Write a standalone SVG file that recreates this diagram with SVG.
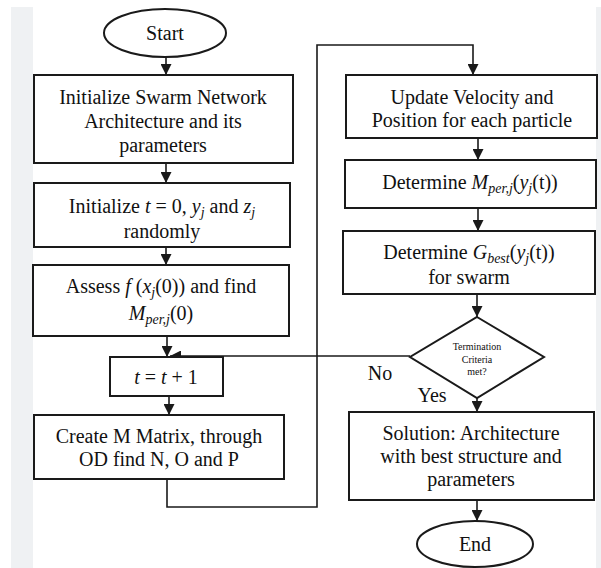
<svg xmlns="http://www.w3.org/2000/svg" width="601" height="568" viewBox="0 0 601 568">
<style>
  .box { fill: #ffffff; stroke: #1a1a1a; stroke-width: 2; }
  .ln { fill: none; stroke: #1a1a1a; stroke-width: 1.6; }
  .t { font-family: "Liberation Serif", "Times New Roman", "DejaVu Serif", serif; font-size: 20px; fill: #111111; text-anchor: middle; }
  .small { font-size: 10px; }
  .i { font-style: italic; }
  .sub { font-size: 14px; font-style: italic; }
</style>
<defs>
  <marker id="ah" markerUnits="userSpaceOnUse" markerWidth="11" markerHeight="11" refX="11" refY="5.5" orient="auto">
    <path d="M0,0 L11,5.5 L0,11 z" fill="#1a1a1a"/>
  </marker>
</defs>
<rect x="0" y="0" width="601" height="568" fill="#ffffff"/>
<rect x="11" y="7" width="22" height="561" fill="#eff1f3"/>
<rect x="596" y="7" width="5" height="561" fill="#eff1f3"/>

<g id="connectors">
  <line class="ln" x1="166" y1="57" x2="166" y2="75" marker-end="url(#ah)"/>
  <line class="ln" x1="166" y1="163" x2="166" y2="183" marker-end="url(#ah)"/>
  <line class="ln" x1="166" y1="247" x2="166" y2="265" marker-end="url(#ah)"/>
  <line class="ln" x1="167" y1="336" x2="167" y2="357" marker-end="url(#ah)"/>
  <line class="ln" x1="410" y1="356" x2="170" y2="356" marker-end="url(#ah)"/>
  <line class="ln" x1="169" y1="396" x2="169" y2="415" marker-end="url(#ah)"/>
  <polyline class="ln" points="167,479 167,507 317,507 317,45 473,45 473,75" marker-end="url(#ah)"/>
  <line class="ln" x1="478" y1="138" x2="478" y2="160" marker-end="url(#ah)"/>
  <line class="ln" x1="478" y1="208" x2="478" y2="231" marker-end="url(#ah)"/>
  <line class="ln" x1="477" y1="294" x2="477" y2="317" marker-end="url(#ah)"/>
  <line class="ln" x1="477" y1="398" x2="477" y2="412" marker-end="url(#ah)"/>
  <line class="ln" x1="477" y1="500" x2="477" y2="521" marker-end="url(#ah)"/>
</g>

<g id="start">
  <ellipse class="box" cx="165" cy="33" rx="61" ry="24"/>
  <text class="t" x="165" y="40" font-family="Liberation Serif, serif">Start</text>
</g>

<g id="init-swarm">
  <rect class="box" x="34" y="75" width="259" height="88"/>
  <text class="t" x="163" y="104">Initialize Swarm Network</text>
  <text class="t" x="163" y="128">Architecture and its</text>
  <text class="t" x="163" y="152">parameters</text>
</g>

<g id="init-t">
  <rect class="box" x="34" y="183" width="256" height="64"/>
  <text class="t" x="162" y="213">Initialize <tspan class="i">t</tspan> = 0, <tspan class="i">y</tspan><tspan class="sub" dy="4">j</tspan><tspan dy="-4"> and </tspan><tspan class="i">z</tspan><tspan class="sub" dy="4">j</tspan></text>
  <text class="t" x="162" y="238">randomly</text>
</g>

<g id="assess">
  <rect class="box" x="33" y="265" width="256" height="71"/>
  <text class="t" x="161" y="293">Assess <tspan class="i">f</tspan> (<tspan class="i">x</tspan><tspan class="sub" dy="4">j</tspan><tspan dy="-4">(0)) and find</tspan></text>
  <text class="t" x="161" y="320"><tspan class="i">M</tspan><tspan class="sub" dy="4">per,j</tspan><tspan dy="-4">(0)</tspan></text>
</g>

<g id="increment">
  <rect class="box" x="110" y="357" width="113" height="39"/>
  <text class="t" x="166" y="384"><tspan class="i">t</tspan> = <tspan class="i">t</tspan> + 1</text>
</g>

<g id="create-m">
  <rect class="box" x="34" y="415" width="250" height="64"/>
  <text class="t" x="159" y="443">Create M Matrix, through</text>
  <text class="t" x="159" y="466">OD find N, O and P</text>
</g>

<g id="update">
  <rect class="box" x="346" y="75" width="251" height="63"/>
  <text class="t" x="472" y="104">Update Velocity and</text>
  <text class="t" x="472" y="127">Position for each particle</text>
</g>

<g id="det-mper">
  <rect class="box" x="345" y="160" width="251" height="48"/>
  <text class="t" x="470" y="189">Determine <tspan class="i">M</tspan><tspan class="sub" dy="4">per,j</tspan><tspan dy="-4">(</tspan><tspan class="i">y</tspan><tspan class="sub" dy="4">j</tspan><tspan dy="-4">(t))</tspan></text>
</g>

<g id="det-gbest">
  <rect class="box" x="343" y="231" width="252" height="63"/>
  <text class="t" x="469" y="259">Determine <tspan class="i">G</tspan><tspan class="sub" dy="4">best</tspan><tspan dy="-4">(</tspan><tspan class="i">y</tspan><tspan class="sub" dy="4">j</tspan><tspan dy="-4">(t))</tspan></text>
  <text class="t" x="469" y="284">for swarm</text>
</g>

<g id="decision">
  <polygon class="box" points="477,317 544,357 477,398 410,357"/>
  <text class="t small" x="477" y="350">Termination</text>
  <text class="t small" x="477" y="363">Criteria</text>
  <text class="t small" x="477" y="375">met?</text>
</g>

<g id="labels">
  <text class="t" x="380" y="380">No</text>
  <text class="t" x="432" y="402">Yes</text>
</g>

<g id="solution">
  <rect class="box" x="349" y="412" width="245" height="88"/>
  <text class="t" x="471" y="440">Solution: Architecture</text>
  <text class="t" x="471" y="463">with best structure and</text>
  <text class="t" x="471" y="486">parameters</text>
</g>

<g id="end">
  <ellipse class="box" cx="475" cy="544" rx="58" ry="23"/>
  <text class="t" x="475" y="551">End</text>
</g>
</svg>
